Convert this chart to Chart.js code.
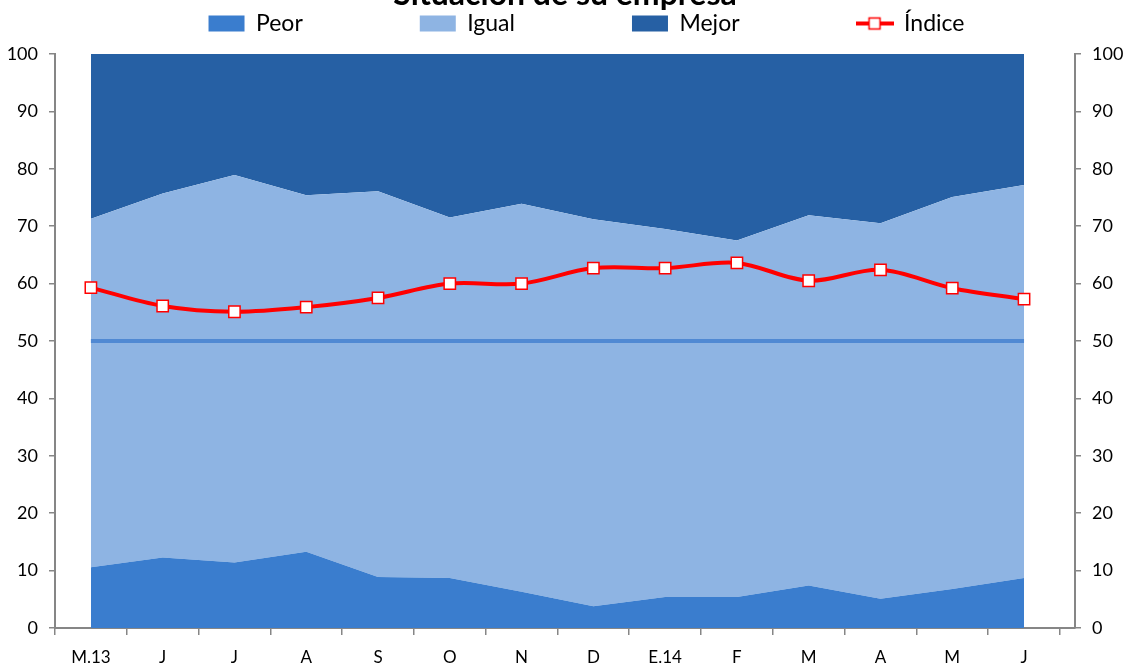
<!DOCTYPE html>
<html>
<head>
<meta charset="utf-8">
<script src="https://cdn.jsdelivr.net/npm/chart.js@4.4.0/dist/chart.umd.min.js"></script>
<style>
    html, body { margin: 0; padding: 0; background: #fff; }
    #wrap { width: 1123px; height: 666px; position: relative; }
</style>
</head>
<body>
<div id="wrap"><canvas id="chart"></canvas></div>
<script>
var title = "Situación de su empresa";
var months = ["M.13", "J", "J", "A", "S", "O", "N", "D", "E.14", "F", "M", "A", "M", "J"];
var peor = [10.6, 12.3, 11.4, 13.3, 8.9, 8.7, 6.3, 3.8, 5.4, 5.4, 7.4, 5.1, 6.8, 8.7];
var igual = [60.7, 63.4, 67.5, 62.1, 67.2, 62.8, 67.6, 67.4, 64.1, 62.1, 64.5, 65.4, 68.3, 68.5];
var mejor = [28.7, 24.3, 21.1, 24.6, 23.9, 28.5, 26.1, 28.8, 30.5, 32.5, 28.1, 29.5, 24.9, 22.8];
var indice = [59.3, 56.1, 55.1, 55.9, 57.5, 60.0, 60.0, 62.7, 62.7, 63.6, 60.5, 62.4, 59.2, 57.3];
var ref50 = [50, 50, 50, 50, 50, 50, 50, 50, 50, 50, 50, 50, 50, 50];

var FONT = "Lato, 'Open Sans', sans-serif";
var AXIS = "#868686";

function points(values) {
    return values.map(function(v, i) { return {x: i, y: v}; });
}

// little legend symbol for the index: red line through a white square
function indexSymbol() {
    var c = document.createElement("canvas");
    c.width = 38;
    c.height = 16;
    var g = c.getContext("2d");
    g.strokeStyle = "#ff0000";
    g.lineWidth = 4;
    g.beginPath();
    g.moveTo(0, 8);
    g.lineTo(38, 8);
    g.stroke();
    g.fillStyle = "#fff";
    g.fillRect(13.5, 2.5, 11, 11);
    g.lineWidth = 1.5;
    g.strokeRect(13.5, 2.5, 11, 11);
    return c;
}
var idxSymbol = indexSymbol();

function area(label, values, color, fill) {
    return {
        label: label,
        data: points(values),
        yAxisID: "y",
        order: 2,
        fill: fill,
        backgroundColor: color,
        borderColor: "rgba(0,0,0,0)",
        borderWidth: 0,
        pointRadius: 0,
        tension: 0
    };
}

// legend keeps its wide item spacing but not the matching height
var legendFit = {
    id: "legendFit",
    beforeInit: function(chart) {
        var fit = chart.legend.fit;
        chart.legend.fit = function() {
            fit.call(this);
            this.height = 159;
            this.lineWidths[0] -= 50;   //nudge the row to the right
        };
    }
};

var cutTitle = {
    id: "cutTitle",
    afterDraw: function(chart) {
        var ctx = chart.ctx;
        ctx.save();
        ctx.font = "bold 32px " + FONT;
        ctx.fillStyle = "#000";
        ctx.textAlign = "center";
        ctx.textBaseline = "alphabetic";
        ctx.fillText(title, 565, 5);
        ctx.restore();
    }
};

function yAxis(pos, width) {
    return {
        position: pos,
        min: 0,
        max: 100,
        ticks: {stepSize: 10, color: "#000", padding: 11, font: {family: FONT, size: 18}},
        grid: {drawOnChartArea: false, drawTicks: true, tickLength: 6, color: AXIS, lineWidth: 1.5},
        border: {color: AXIS, width: 2},
        afterFit: function(s) { s.width = width; }
    };
}

var yLeft = yAxis("left", 55);
yLeft.stacked = true;

new Chart(document.getElementById("chart"), {
    type: "line",
    data: {
        datasets: [
            area("Peor", peor, "#3a7dce", "origin"),
            area("Igual", igual, "#8eb4e3", "-1"),
            area("Mejor", mejor, "#2660a4", "-1"),
            {
                label: "Índice",
                data: points(indice),
                yAxisID: "y2",
                order: 0,
                fill: false,
                borderColor: "#ff0000",
                borderWidth: 4,
                tension: 0.33,
                pointStyle: "rect",
                pointRadius: 8,
                pointBorderWidth: 1.5,
                pointBorderColor: "#ff0000",
                pointBackgroundColor: "#ffffff"
            },
            {
                label: "50",
                data: points(ref50),
                yAxisID: "y2",
                order: 1,
                fill: false,
                borderColor: "#5089d3",
                borderWidth: 4,
                pointRadius: 0,
                tension: 0
            }
        ]
    },
    options: {
        responsive: true,
        maintainAspectRatio: false,
        animation: false,
        layout: {padding: {top: -105}},
        scales: {
            x: {
                type: "linear",
                min: -0.5,
                max: 13.71,
                afterBuildTicks: function(s) {
                    s.ticks = months.map(function(m, i) { return {value: i}; });
                },
                ticks: {
                    autoSkip: false,
                    maxRotation: 0,
                    color: "#000",
                    padding: 12,
                    font: {family: FONT, size: 17},
                    callback: function(v) { return months[v]; }
                },
                grid: {offset: true, drawOnChartArea: false, drawTicks: true, tickLength: 7, color: AXIS, lineWidth: 1.5},
                border: {color: AXIS, width: 2},
                afterFit: function(s) { s.height = 38; }
            },
            y: yLeft,
            y2: yAxis("right", 48)
        },
        plugins: {
            tooltip: {enabled: false},
            legend: {
                position: "top",
                labels: {
                    usePointStyle: true,
                    pointStyleWidth: 36,
                    boxHeight: 16,
                    padding: 117,
                    color: "#000",
                    font: {family: FONT, size: 23},
                    sort: function(a, b) { return a.datasetIndex - b.datasetIndex; },
                    filter: function(item) { return item.text != "50"; },
                    generateLabels: function(chart) {
                        var items = Chart.defaults.plugins.legend.labels.generateLabels(chart);
                        items.forEach(function(item) {
                            if (item.text == "Índice") {
                                item.pointStyle = idxSymbol;
                            } else {
                                item.pointStyle = "rect";
                                item.lineWidth = 0;
                                item.strokeStyle = "rgba(0,0,0,0)";
                            }
                        });
                        return items;
                    }
                }
            }
        }
    },
    plugins: [legendFit, cutTitle]
});
</script>
</body>
</html>
